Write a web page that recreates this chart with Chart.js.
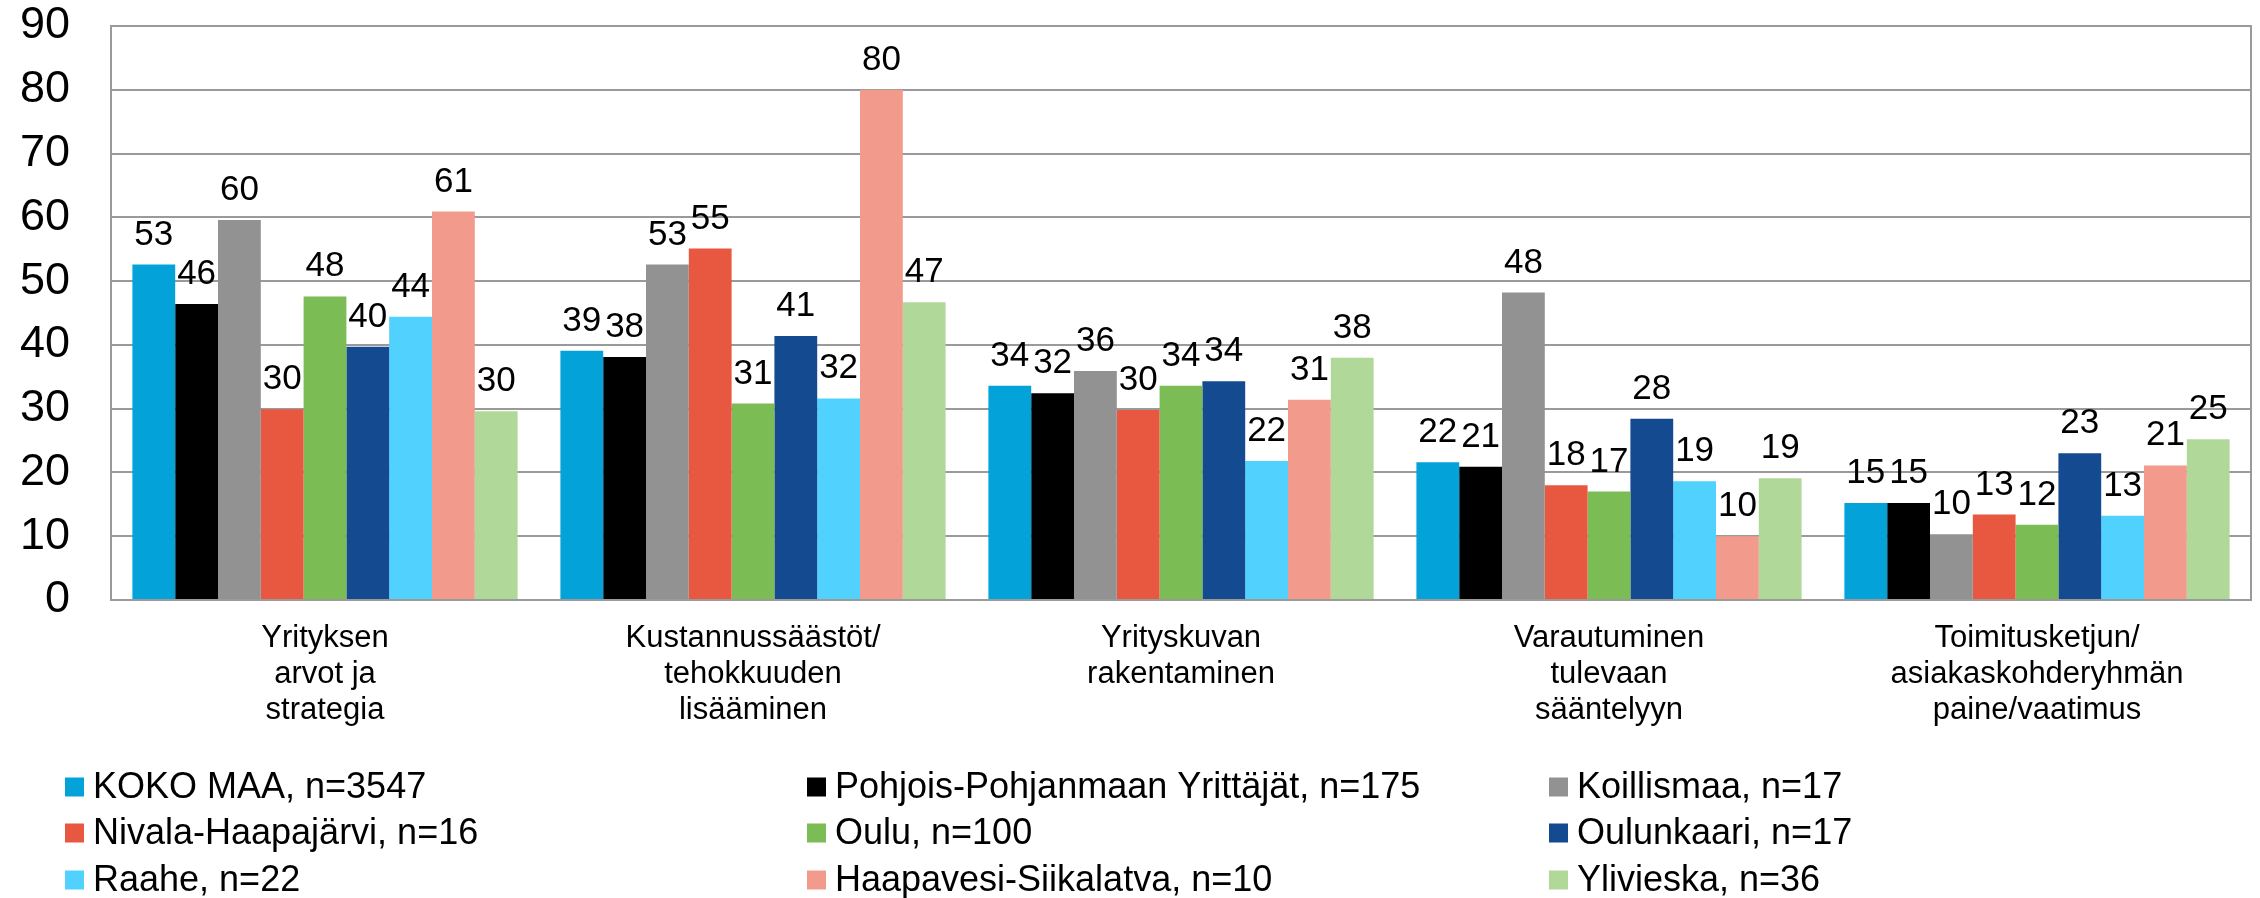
<!DOCTYPE html>
<html>
<head>
<meta charset="utf-8">
<script src="https://cdn.jsdelivr.net/npm/chart.js@4/dist/chart.umd.min.js"></script>
<style>
  body { margin: 0; background: #fff; }
  #wrap { width: 2260px; height: 898px; }
</style>
</head>
<body>
<div id="wrap"><canvas id="bar-chart" width="2260" height="898"></canvas></div>
<script>
// categories (x axis, multi-line)
var categories = [
    ["Yrityksen", "arvot ja", "strategia"],
    ["Kustannussäästöt/", "tehokkuuden", "lisääminen"],
    ["Yrityskuvan", "rakentaminen"],
    ["Varautuminen", "tulevaan", "sääntelyyn"],
    ["Toimitusketjun/", "asiakaskohderyhmän", "paine/vaatimus"]
];

var seriesNames = [
    "KOKO MAA, n=3547",
    "Pohjois-Pohjanmaan Yrittäjät, n=175",
    "Koillismaa, n=17",
    "Nivala-Haapajärvi, n=16",
    "Oulu, n=100",
    "Oulunkaari, n=17",
    "Raahe, n=22",
    "Haapavesi-Siikalatva, n=10",
    "Ylivieska, n=36"
];

var seriesColors = ["#03a3d9", "#000000", "#929292", "#e85841", "#7bbc55",
                    "#134a90", "#50d1fe", "#f29b8d", "#b0d898"];

// values per series, one per category
var kokoMaa     = [52.6, 39.1, 33.6, 21.6, 15.2];
var pohjois     = [46.4, 38.1, 32.4, 20.9, 15.2];
var koillismaa  = [59.6, 52.6, 35.9, 48.2, 10.3];
var nivala      = [29.9, 55.1, 29.8, 18.0, 13.4];
var oulu        = [47.6, 30.8, 33.6, 17.0, 11.8];
var oulunkaari  = [39.7, 41.4, 34.3, 28.4, 23.0];
var raahe       = [44.4, 31.6, 21.8, 18.6, 13.2];
var haapavesi   = [60.9, 80.0, 31.4, 10.0, 21.1];
var ylivieska   = [29.6, 46.7, 38.0, 19.1, 25.2];

var seriesValues = [kokoMaa, pohjois, koillismaa, nivala, oulu,
                    oulunkaari, raahe, haapavesi, ylivieska];

var yTicks = [0, 10, 20, 30, 40, 50, 60, 70, 80, 90];

var FONT = "'Liberation Sans', Arial, sans-serif";
var gridColor = "#9a9a9a";

var datasets = seriesNames.map(function(name, i) {
    return {
        label: name,
        data: seriesValues[i],
        backgroundColor: seriesColors[i],
        borderWidth: 0,
        barPercentage: 1.0,
        categoryPercentage: 0.9
    };
});

// value labels above bars
var valueLabels = {
    id: 'valueLabels',
    afterDatasetsDraw: function(chart) {
        var ctx = chart.ctx;
        ctx.save();
        ctx.font = "35px " + FONT;
        ctx.fillStyle = "#000";
        ctx.textAlign = "center";
        ctx.textBaseline = "alphabetic";
        chart.data.datasets.forEach(function(ds, i) {
            chart.getDatasetMeta(i).data.forEach(function(bar, j) {
                ctx.fillText(Math.round(ds.data[j]), bar.x, bar.y - 20);
            });
        });
        ctx.restore();
    }
};

// plot frame + 3-column legend
var frameAndLegend = {
    id: 'frameAndLegend',
    afterDraw: function(chart) {
        var ctx = chart.ctx;
        var a = chart.chartArea;
        ctx.save();
        ctx.strokeStyle = gridColor;
        ctx.lineWidth = 2;
        ctx.strokeRect(a.left, a.top, a.right - a.left, a.bottom - a.top);

        var colX = [65, 807, 1549];
        var rowY = [787, 833, 880];
        ctx.font = "36px " + FONT;
        ctx.textAlign = "left";
        ctx.textBaseline = "middle";
        chart.data.datasets.forEach(function(ds, i) {
            var x = colX[i % 3], y = rowY[Math.floor(i / 3)];
            ctx.fillStyle = ds.backgroundColor;
            ctx.fillRect(x, y - 9.5, 19, 19);
            ctx.fillStyle = "#000";
            ctx.fillText(ds.label, x + 28, y + 1);
        });
        ctx.restore();
    }
};

new Chart(document.getElementById("bar-chart"), {
    type: 'bar',
    data: {
        labels: categories,
        datasets: datasets
    },
    options: {
        responsive: false,
        animation: false,
        layout: { padding: { top: 26, right: 9, bottom: 148, left: 0 } },
        plugins: {
            legend: { display: false },
            tooltip: { enabled: false }
        },
        scales: {
            x: {
                grid: { display: false, drawTicks: false },
                border: { display: true, color: gridColor, width: 2 },
                ticks: {
                    color: "#000",
                    padding: 20,
                    maxRotation: 0,
                    autoSkip: false,
                    font: { family: FONT, size: 31, lineHeight: 1.17 }
                },
                afterFit: function(scale) {
                    scale.height = 150;
                    scale.paddingLeft = 0;
                    scale.paddingRight = 0;
                }
            },
            y: {
                min: 0,
                max: 90,
                afterBuildTicks: function(scale) {
                    scale.ticks = yTicks.map(function(v) { return { value: v }; });
                },
                grid: { color: gridColor, lineWidth: 2, drawTicks: false },
                border: { display: true, color: gridColor, width: 2 },
                ticks: {
                    color: "#000",
                    padding: 41,
                    font: { family: FONT, size: 45 }
                },
                afterFit: function(scale) {
                    scale.width = 111;
                    scale.paddingTop = 0;
                    scale.paddingBottom = 0;
                }
            }
        }
    },
    plugins: [valueLabels, frameAndLegend]
});
</script>
</body>
</html>
